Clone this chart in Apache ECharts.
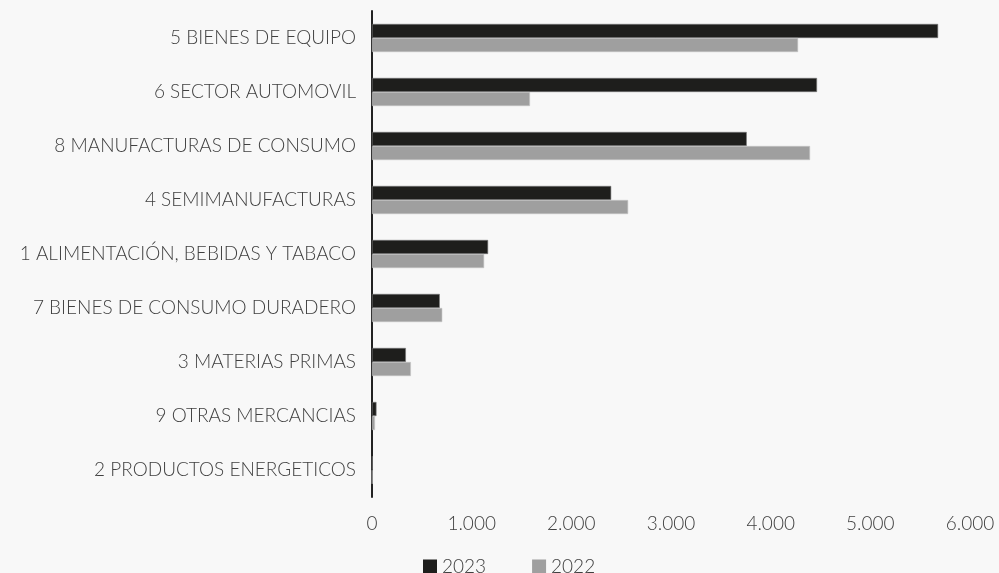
<!DOCTYPE html>
<html><head><meta charset="utf-8">
<script src="https://cdn.jsdelivr.net/npm/echarts@6/dist/echarts.min.js"></script>
<style>html,body{margin:0;padding:0;background:#f8f8f8}#c{width:999px;height:573px}</style>
</head><body><div id="c"></div>
<script>
const categories = ["5 BIENES DE EQUIPO","6 SECTOR AUTOMOVIL","8 MANUFACTURAS DE CONSUMO","4 SEMIMANUFACTURAS","1 ALIMENTACIÓN, BEBIDAS Y TABACO","7 BIENES DE CONSUMO DURADERO","3 MATERIAS PRIMAS","9 OTRAS MERCANCIAS","2 PRODUCTOS ENERGETICOS"];
const values2023 = [5680, 4465, 3760, 2400, 1165, 680, 340, 45, 5];
const values2022 = [4275, 1585, 4395, 2570, 1125, 705, 390, 30, 3];
const xTicks = [0, 1000, 2000, 3000, 4000, 5000, 6000];
const fontFam = "Lato, 'Noto Sans', sans-serif";
const chart = echarts.init(document.getElementById('c'), null, {renderer:'canvas'});
chart.setOption({
  backgroundColor: '#f8f8f8',
  animation: false,
  textStyle: {fontFamily: fontFam},
  grid: {left: 372, right: 29, top: 11, bottom: 76, containLabel: false},
  legend: {
    top: 552, left: 418, itemWidth: 14, itemHeight: 14, itemGap: 46,
    icon: 'rect',
    itemStyle: {borderWidth: 0},
    textStyle: {fontSize: 19, color: '#404040', fontFamily: fontFam, fontWeight: 300},
    data: ['2023','2022']
  },
  xAxis: {
    type: 'value', min: xTicks[0], max: xTicks[xTicks.length-1], interval: 1000,
    splitLine: {show: false}, axisLine: {show: false}, axisTick: {show: false},
    axisLabel: {margin: 17, fontSize: 19, color: '#404040', fontWeight: 300,
      formatter: v => v === 0 ? '0' : v.toLocaleString('de-DE')}
  },
  yAxis: {
    type: 'category', inverse: true, data: categories,
    axisLine: {show: true, lineStyle: {color: '#222', width: 2}},
    axisTick: {show: false},
    axisLabel: {margin: 16, fontSize: 19, color: '#404040', fontWeight: 300}
  },
  series: [
    {name: '2023', type: 'bar', data: values2023, barGap: '0%', barCategoryGap: '48%',
     itemStyle: {color: '#1e1e1c', borderColor: '#777', borderWidth: 0.6}},
    {name: '2022', type: 'bar', data: values2022, barGap: '0%', barCategoryGap: '48%',
     itemStyle: {color: '#9f9f9f', borderColor: '#c4c4c4', borderWidth: 0.6}}
  ]
});
</script></body></html>
